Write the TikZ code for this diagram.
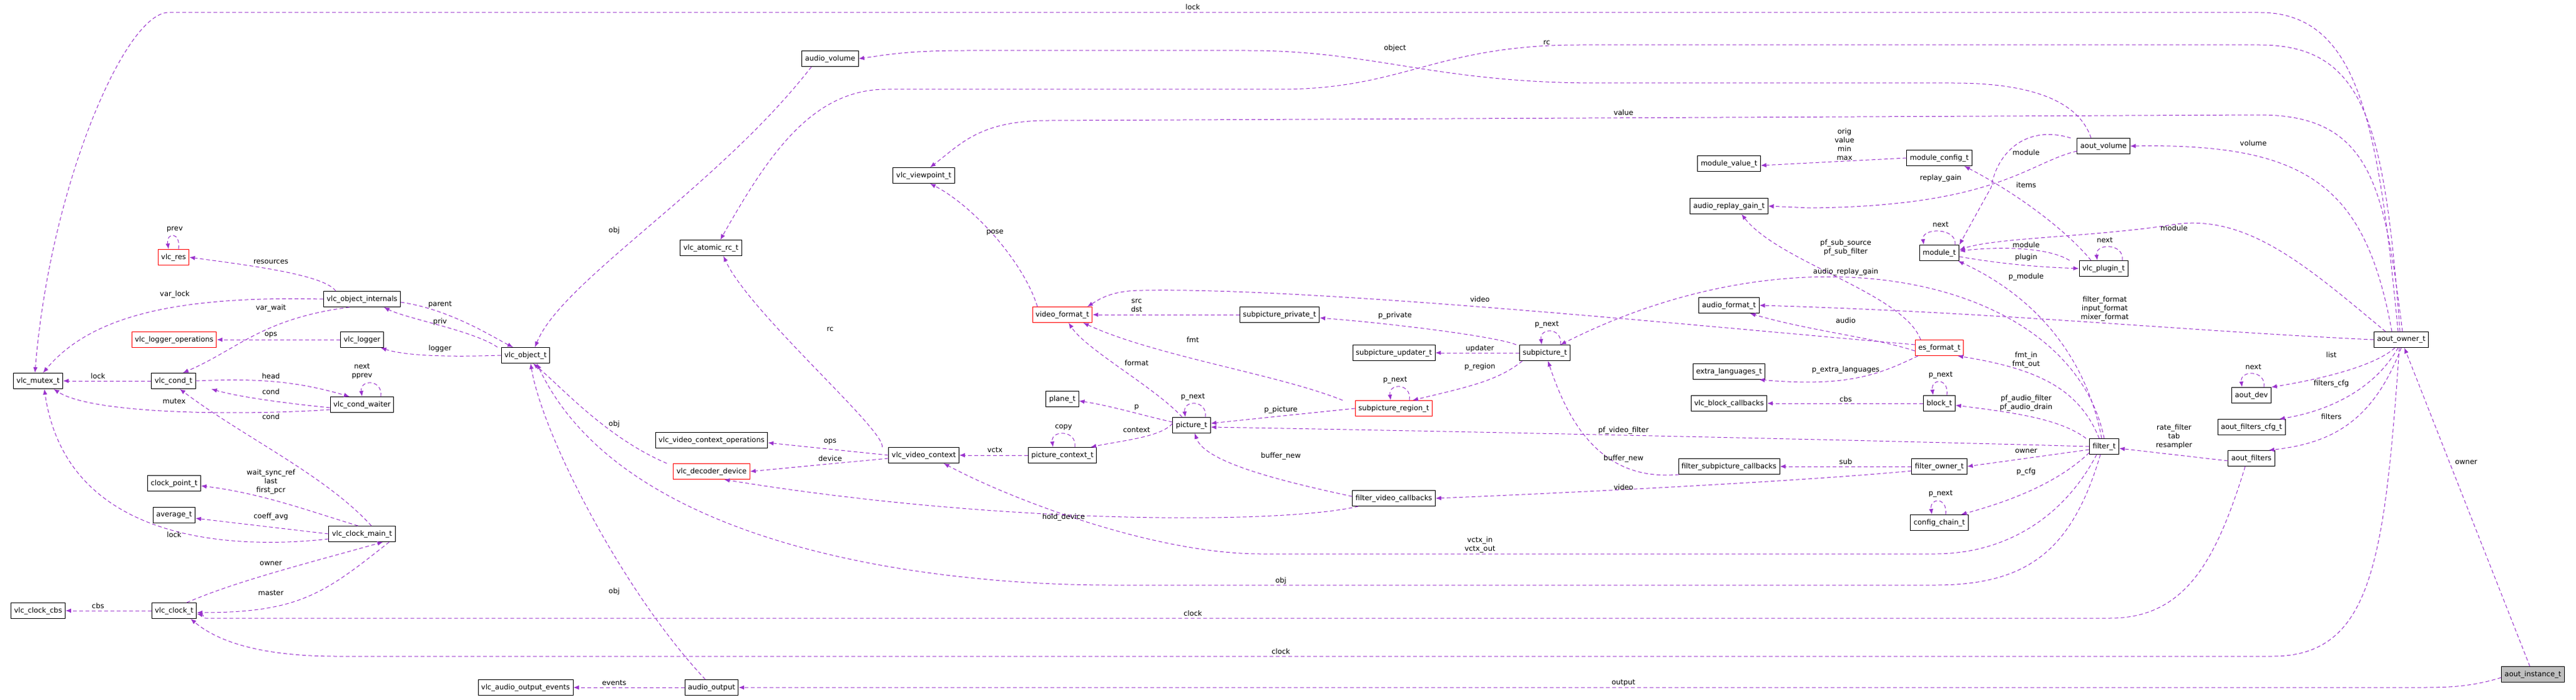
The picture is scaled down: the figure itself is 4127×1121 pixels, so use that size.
\documentclass[tikz,border=0pt]{standalone}
\usepackage{fontspec}
\setmainfont{DejaVu Sans}
\usetikzlibrary{arrows.meta}
\definecolor{edgecol}{RGB}{154,50,205}
\tikzset{
	box/.style={draw,fill=white,line width=0.9pt,inner xsep=5pt,minimum height=25pt,font=\fontsize{11.5}{13}\selectfont},
	redbox/.style={box,draw=red},
	edge/.style={edgecol,dashed,dash pattern=on 6pt off 4pt,line width=1pt,-{Latex[length=9pt,width=7pt]}},
	lbl/.style={font=\fontsize{11.5}{14}\selectfont,align=center,inner sep=1pt}
}
\begin{document}
\begin{tikzpicture}[x=1pt,y=1pt]
		\useasboundingbox (0,0) rectangle (4127,-1121);
		% nodes
		\node[redbox] (res) at (278,-412) {vlc\_res};
		\node[box] (voi) at (580,-479) {vlc\_object\_internals};
		\node[redbox] (lgo) at (279,-544) {vlc\_logger\_operations};
		\node[box] (lgr) at (580,-544) {vlc\_logger};
		\node[box] (obj) at (842,-569) {vlc\_object\_t};
		\node[box] (mx) at (61,-610) {vlc\_mutex\_t};
		\node[box] (cnd) at (278,-610) {vlc\_cond\_t};
		\node[box] (cw) at (580,-648) {vlc\_cond\_waiter};
		\node[box] (cpt) at (279,-774) {clock\_point\_t};
		\node[box] (avg) at (279,-825) {average\_t};
		\node[box] (cm) at (580,-855) {vlc\_clock\_main\_t};
		\node[box] (cbs) at (61,-978) {vlc\_clock\_cbs};
		\node[box] (clk) at (279,-978) {vlc\_clock\_t};
		\node[box] (avl) at (1330,-94) {audio\_volume};
		\node[box] (arc) at (1139,-397) {vlc\_atomic\_rc\_t};
		\node[box] (vco) at (1140,-705) {vlc\_video\_context\_operations};
		\node[redbox] (dec) at (1140,-755) {vlc\_decoder\_device};
		\node[box] (aoe) at (842,-1101) {vlc\_audio\_output\_events};
		\node[box] (aop) at (1140,-1101) {audio\_output};
		\node[box] (vp) at (1480,-281) {vlc\_viewpoint\_t};
		\node[redbox] (vf) at (1702,-504) {video\_format\_t};
		\node[box] (spp) at (2050,-504) {subpicture\_private\_t};
		\node[box] (mv) at (2770,-262) {module\_value\_t};
		\node[box] (arg) at (2770,-330) {audio\_replay\_gain\_t};
		\node[box] (af) at (2770,-489) {audio\_format\_t};
		\node[box] (sup) at (2233,-565) {subpicture\_updater\_t};
		\node[box] (sp) at (2475,-565) {subpicture\_t};
		\node[box] (el) at (2770,-595) {extra\_languages\_t};
		\node[box] (bcb) at (2770,-646) {vlc\_block\_callbacks};
		\node[box] (pl) at (1702,-639) {plane\_t};
		\node[box] (pic) at (1909,-681) {picture\_t};
		\node[redbox] (reg) at (2233,-654) {subpicture\_region\_t};
		\node[box] (vc) at (1480,-729) {vlc\_video\_context};
		\node[box] (pc) at (1702,-729) {picture\_context\_t};
		\node[box] (fsc) at (2770,-747) {filter\_subpicture\_callbacks};
		\node[box] (fvc) at (2233,-798) {filter\_video\_callbacks};
		\node[box] (avo) at (3370,-234) {aout\_volume};
		\node[box] (mc) at (3107,-253) {module\_config\_t};
		\node[box] (mod) at (3107,-405) {module\_t};
		\node[box] (plg) at (3370,-430) {vlc\_plugin\_t};
		\node[box] (ao) at (3847,-544) {aout\_owner\_t};
		\node[redbox] (es) at (3107,-557) {es\_format\_t};
		\node[box] (blk) at (3107,-646) {block\_t};
		\node[box] (flt) at (3371,-715) {filter\_t};
		\node[box] (fo) at (3107,-747) {filter\_owner\_t};
		\node[box] (cc) at (3107,-837) {config\_chain\_t};
		\node[box] (dev) at (3607,-633) {aout\_dev};
		\node[box] (afc) at (3607,-684) {aout\_filters\_cfg\_t};
		\node[box] (afl) at (3607,-734) {aout\_filters};
		\node[box,fill=black!25] (ai) at (4058,-1080) {aout\_instance\_t};
		
		% left cluster
		\draw[edge] ([xshift=20pt]voi.north west) .. controls (520,-440) and (400,-425) .. (res.east);
		\draw[edge] ([xshift=8pt]res.north) .. controls +(4,28) and +(-4,28) .. ([xshift=-8pt]res.north);
		\draw[edge] (voi.west) .. controls (300,-474) and (150,-500) .. ([xshift=8pt]mx.north);
		\draw[edge] ([xshift=-20pt]voi.south) .. controls (420,-510) and (380,-560) .. ([xshift=15pt]cnd.north);
		\draw[edge] ([yshift=-5pt]voi.east) .. controls (720,-495) and (790,-540) .. ([xshift=-20pt]obj.north);
		\draw[edge] ([xshift=-45pt]obj.north) .. controls (760,-530) and (650,-510) .. ([xshift=35pt]voi.south);
		\draw[edge] (lgr.west) -- (lgo.east);
		\draw[edge] (obj.west) .. controls (720,-572) and (650,-570) .. ([xshift=30pt]lgr.south);
		\draw[edge] (cnd.west) -- (mx.east);
		\draw[edge] (cnd.east) .. controls (420,-605) and (480,-612) .. ([xshift=-20pt]cw.north);
		\draw[edge] ([yshift=-5pt]cw.west) .. controls (450,-645) and (380,-635) .. ([xshift=25pt]cnd.south east);
		\draw[edge] ([xshift=30pt]cw.north) .. controls +(4,28) and +(-4,28) .. ([xshift=0pt]cw.north);
		\draw[edge] ([yshift=-8pt]cw.west) .. controls (400,-665) and (150,-665) .. ([xshift=-15pt]mx.south east);
		\draw[edge] ([xshift=15pt]cm.north) .. controls (520,-760) and (390,-700) .. ([xshift=10pt]cnd.south);
		\draw[edge] ([xshift=-60pt]cm.north east) .. controls (500,-820) and (420,-790) .. ([yshift=-4pt]cpt.east);
		\draw[edge] (cm.west) -- ([yshift=-5pt]avg.east);
		\draw[edge] ([yshift=-8pt]cm.west) .. controls (420,-875) and (110,-890) .. ([xshift=10pt]mx.south);
		\draw[edge] ([xshift=20pt]clk.north) .. controls (380,-930) and (500,-900) .. ([xshift=-20pt]cm.south east);
		\draw[edge] ([xshift=-10pt]cm.south east) .. controls (520,-950) and (480,-981) .. ([yshift=-3pt]clk.east);
		\draw[edge] (clk.west) -- (cbs.east);
		
		% middle
		\draw[edge] ([xshift=-30pt]avl.south) .. controls (1150,-300) and (900,-450) .. ([xshift=15pt]obj.north);
		\draw[edge] ([xshift=-10pt]aop.north) .. controls (1000,-950) and (870,-700) .. ([xshift=8pt]obj.south);
		\draw[edge] (aop.west) -- (aoe.east);
		\draw[edge] ([xshift=-10pt]dec.north west) .. controls (970,-700) and (900,-620) .. ([xshift=12pt]obj.south);
		\draw[edge] ([xshift=-10pt]vc.north west) .. controls (1420,-690) and (1200,-500) .. ([xshift=20pt]arc.south);
		\draw[edge] (vc.west) -- ([yshift=-4pt]vco.east);
		\draw[edge] ([yshift=-5pt]vc.west) -- (dec.east);
		\draw[edge] (pc.west) -- (vc.east);
		\draw[edge] ([xshift=20pt]pc.north) .. controls +(4,28) and +(-4,28) .. ([xshift=-15pt]pc.north);
		\draw[edge] ([yshift=3pt]pic.west) .. controls (1860,-700) and (1800,-705) .. ([xshift=-10pt]pc.north east);
		\draw[edge] ([yshift=5pt]pic.west) .. controls (1830,-665) and (1780,-650) .. ([yshift=-3pt]pl.east);
		\draw[edge] ([xshift=-15pt]pic.north) .. controls (1850,-620) and (1740,-560) .. ([xshift=10pt]vf.south);
		\draw[edge] ([xshift=22pt]pic.north) .. controls +(4,28) and +(-4,28) .. ([xshift=-10pt]pic.north);
		\draw[edge] ([xshift=-40pt]vf.north) .. controls (1640,-420) and (1560,-330) .. ([xshift=10pt]vp.south);
		\draw[edge] (spp.west) -- (vf.east);
		\draw[edge] ([xshift=-20pt]reg.north west) .. controls (2050,-600) and (1850,-570) .. ([xshift=-15pt]vf.south east);
		\draw[edge] (reg.west) -- ([yshift=3pt]pic.east);
		\draw[edge] ([xshift=25pt]reg.north) .. controls +(4,28) and +(-4,28) .. ([xshift=-5pt]reg.north);
		\draw[edge] ([xshift=-5pt]sp.north west) .. controls (2400,-540) and (2250,-520) .. ([yshift=-5pt]spp.east);
		\draw[edge] (sp.west) -- (sup.east);
		\draw[edge] ([xshift=5pt]sp.south west) .. controls (2400,-610) and (2350,-620) .. ([xshift=30pt]reg.north);
		\draw[edge] ([xshift=25pt]sp.north) .. controls +(4,28) and +(-4,28) .. ([xshift=-5pt]sp.north);
		\draw[edge] ([yshift=3pt]fvc.west) .. controls (2050,-770) and (1930,-740) .. ([xshift=5pt]pic.south);
		\draw[edge] ([xshift=10pt]fvc.south west) .. controls (2050,-840) and (1600,-840) .. ([xshift=20pt]dec.south);
		\draw[edge] ([xshift=-80pt]fsc.south) .. controls (2580,-770) and (2520,-700) .. ([xshift=5pt]sp.south);
		\draw[edge] (fo.west) -- (fsc.east);
		\draw[edge] ([yshift=-7pt]fo.west) .. controls (2900,-770) and (2500,-790) .. (fvc.east);
		
		% right
		\draw[edge] ([yshift=5pt]es.west) .. controls (2700,-520) and (2100,-460) .. (1830,-465) .. controls (1780,-465) and (1760,-480) .. ([xshift=40pt]vf.north);
		\draw[edge] ([yshift=-5pt]es.west) .. controls (3000,-540) and (2900,-530) .. ([xshift=-15pt]af.south east);
		\draw[edge] ([xshift=-30pt]es.north) .. controls (3050,-470) and (2850,-420) .. ([xshift=20pt]arg.south);
		\draw[edge] ([xshift=5pt]es.south west) .. controls (3010,-600) and (2960,-620) .. ([xshift=-10pt]el.south east);
		\draw[edge] (blk.west) -- (bcb.east);
		\draw[edge] ([xshift=12pt]blk.north) .. controls +(4,28) and +(-4,28) .. ([xshift=-10pt]blk.north);
		\draw[edge] ([xshift=10pt]cc.north) .. controls +(4,28) and +(-4,28) .. ([xshift=-12pt]cc.north);
		\draw[edge] ([xshift=-8pt]flt.north) .. controls (3330,-620) and (3260,-590) .. ([xshift=-10pt]es.south east);
		\draw[edge] ([xshift=-5pt]flt.north west) .. controls (3300,-670) and (3220,-660) .. ([yshift=-3pt]blk.east);
		\draw[edge] (flt.west) .. controls (3000,-705) and (2300,-690) .. ([yshift=-3pt]pic.east);
		\draw[edge] ([yshift=-5pt]flt.west) -- (fo.east);
		\draw[edge] ([yshift=-10pt]flt.west) .. controls (3300,-770) and (3230,-800) .. ([xshift=-12pt]cc.north east);
		\draw[edge] ([xshift=-4pt]flt.north) .. controls (3340,-560) and (3250,-470) .. ([xshift=30pt]mod.south);
		\draw[edge] ([xshift=0pt]flt.north) .. controls (3320,-450) and (2900,-350) .. ([xshift=25pt]sp.north);
		\draw[edge] ([xshift=-12pt]flt.south) .. controls (3300,-840) and (3200,-887) .. (3100,-887) -- (2020,-887) .. controls (1850,-887) and (1620,-800) .. ([xshift=-25pt]vc.south east);
		\draw[edge] ([xshift=-6pt]flt.south) .. controls (3320,-880) and (3250,-937) .. (3100,-937) -- (1780,-937) .. controls (1500,-937) and (1000,-880) .. ([xshift=18pt]obj.south);
		\draw[edge] (mc.west) -- ([yshift=-3pt]mv.east);
		\draw[edge] ([xshift=25pt]mod.north) .. controls +(4,28) and +(-4,28) .. ([xshift=-25pt]mod.north);
		\draw[edge] ([yshift=-6pt]mod.east) .. controls (3220,-425) and (3280,-428) .. (plg.west);
		\draw[edge] ([xshift=-15pt]plg.north west) .. controls (3280,-395) and (3200,-395) .. ([yshift=3pt]mod.east);
		\draw[edge] ([xshift=30pt]plg.north) .. controls +(4,28) and +(-4,28) .. ([xshift=-10pt]plg.north);
		\draw[edge] ([xshift=-20pt]plg.north) .. controls (3320,-380) and (3250,-320) .. ([xshift=40pt]mc.south);
		\draw[edge] ([xshift=-10pt]avo.north west) .. controls (3250,-200) and (3200,-240) .. (3190,-300) -- ([xshift=32pt]mod.north);
		\draw[edge] ([yshift=-8pt]avo.west) .. controls (3250,-260) and (3200,-330) .. (2900,-333) -- (arg.east);
		\draw[edge] ([xshift=-20pt]avo.north) .. controls (3330,-160) and (3250,-133) .. (3130,-133) -- (2560,-133) .. controls (2300,-133) and (2200,-81) .. (2000,-81) -- (1550,-81) .. controls (1450,-81) and (1420,-88) .. (avl.east);
		\draw[edge] ([xshift=-15pt]ao.north) .. controls (3790,-300) and (3700,-229) .. (avo.east);
		\draw[edge] ([xshift=-25pt]ao.north) .. controls (3700,-430) and (3600,-340) .. (3480,-360) .. controls (3350,-380) and (3200,-380) .. ([yshift=5pt]mod.east);
		\draw[edge] (ao.west) .. controls (3500,-530) and (3200,-500) .. (af.east);
		\draw[edge] ([xshift=-10pt]ao.south) .. controls (3800,-590) and (3700,-610) .. (dev.north east);
		\draw[edge] ([xshift=-5pt]ao.south) .. controls (3800,-630) and (3720,-660) .. ([xshift=-10pt]afc.north east);
		\draw[edge] (ao.south) .. controls (3800,-680) and (3730,-710) .. ([xshift=-10pt]afl.north east);
		\draw[edge] ([xshift=20pt]dev.north) .. controls +(4,28) and +(-4,28) .. ([xshift=-15pt]dev.north);
		\draw[edge] ([yshift=-4pt]afl.west) -- ([yshift=-3pt]flt.east);
		\draw[edge] ([xshift=-10pt]afl.south) .. controls (3550,-900) and (3500,-990) .. (3380,-990) -- (330,-990) .. controls (320,-990) and (330,-986) .. ([yshift=-5pt]clk.east);
		\draw[edge] ([xshift=-5pt]ao.north) .. controls (3810,-200) and (3780,-20) .. (3620,-20) -- (270,-20) .. controls (200,-20) and (80,-300) .. ([xshift=-5pt]mx.north);
		\draw[edge] ([xshift=-2pt]ao.north) .. controls (3820,-200) and (3790,-72) .. (3620,-72) -- (2530,-72) .. controls (2300,-72) and (2250,-143) .. (2050,-143) -- (1420,-143) .. controls (1300,-143) and (1230,-250) .. ([xshift=15pt]arc.north);
		\draw[edge] ([xshift=2pt]ao.north) .. controls (3820,-300) and (3800,-184) .. (3620,-184) -- (1680,-193) .. controls (1570,-193) and (1540,-230) .. ([xshift=10pt]vp.north);
		\draw[edge] ([xshift=-3pt]ao.south) .. controls (3820,-900) and (3800,-1051) .. (3640,-1051) -- (540,-1051) .. controls (400,-1051) and (340,-1020) .. ([xshift=-10pt]clk.south east);
		\draw[edge] ([xshift=-5pt]ai.north) -- ([xshift=5pt]ao.south);
		\draw[edge] ([yshift=-5pt]ai.west) .. controls (3960,-1100) and (3920,-1101) .. (3880,-1101) -- (aop.east);
		
		% labels
		\foreach \t/\x/\y in {prev/280/367, resources/434/419, var\_lock/280/471, var\_wait/434/493,
			parent/705/488, priv/705/515, ops/434/536, obj/984/369, rc/1330/527, logger/705/558,
			lock/157/602, head/434/602, cond/434/627, mutex/279/643, cond/434/667, obj/984/679,
			ops/1330/707, device/1330/734, coeff\_avg/434/827, lock/279/856, owner/434/902,
			obj/984/947, master/434/950, cbs/157/970, events/984/1094, lock/1911/11,
			object/2235/77, rc/2478/68, value/2601/180, pose/1594/372, video/2371/479,
			p\_private/2235/505, p\_next/2478/520, fmt/1911/544, updater/2371/558, format/1821/581,
			p\_region/2371/587, p\_next/2235/609, p\_next/1911/636, p/1821/652, p\_picture/2052/656,
			copy/1704/684, context/1821/689, pf\_video\_filter/2601/689, vctx/1594/721,
			buffer\_new/2052/730, buffer\_new/2601/734, video/2601/780, hold\_device/1704/828,
			obj/2052/930, clock/1911/982, clock/2052/1043, output/2601/1094, module/3246/244,
			volume/3610/229, replay\_gain/3109/285, items/3246/296, next/3109/360, module/3483/365,
			next/3372/385, module/3246/392, plugin/3246/412, audio\_replay\_gain/2957/435,
			p\_module/3246/443, audio/2957/513, list/3735/568, next/3610/588,
			p\_extra\_languages/2957/592, p\_next/3109/601, filters\_cfg/3735/614, cbs/2957/639,
			filters/3735/667, owner/3246/722, sub/2957/739, owner/3951/740, p\_cfg/3246/755,
			p\_next/3109/791}
			\node[lbl] at (\x,-\y) {\t};
		\node[lbl] (l-pprev) at (580,-595) {next\\pprev};
		\node[lbl] (l-sync) at (434,-771) {wait\_sync\_ref\\last\\first\_pcr};
		\node[lbl] (l-srcdst) at (1821,-489) {src\\dst};
		\node[lbl] (l-vctx) at (2371,-872) {vctx\_in\\vctx\_out};
		\node[lbl] (l-mval) at (2955,-231) {orig\\value\\min\\max};
		\node[lbl] (l-subsrc) at (2957,-396) {pf\_sub\_source\\pf\_sub\_filter};
		\node[lbl] (l-afmt) at (3372,-494) {filter\_format\\input\_format\\mixer\_format};
		\node[lbl] (l-fmtin) at (3246,-576) {fmt\_in\\fmt\_out};
		\node[lbl] (l-pfa) at (3246,-645) {pf\_audio\_filter\\pf\_audio\_drain};
		\node[lbl] (l-rate) at (3483,-699) {rate\_filter\\tab\\resampler};
		\end{tikzpicture}
\end{document}
